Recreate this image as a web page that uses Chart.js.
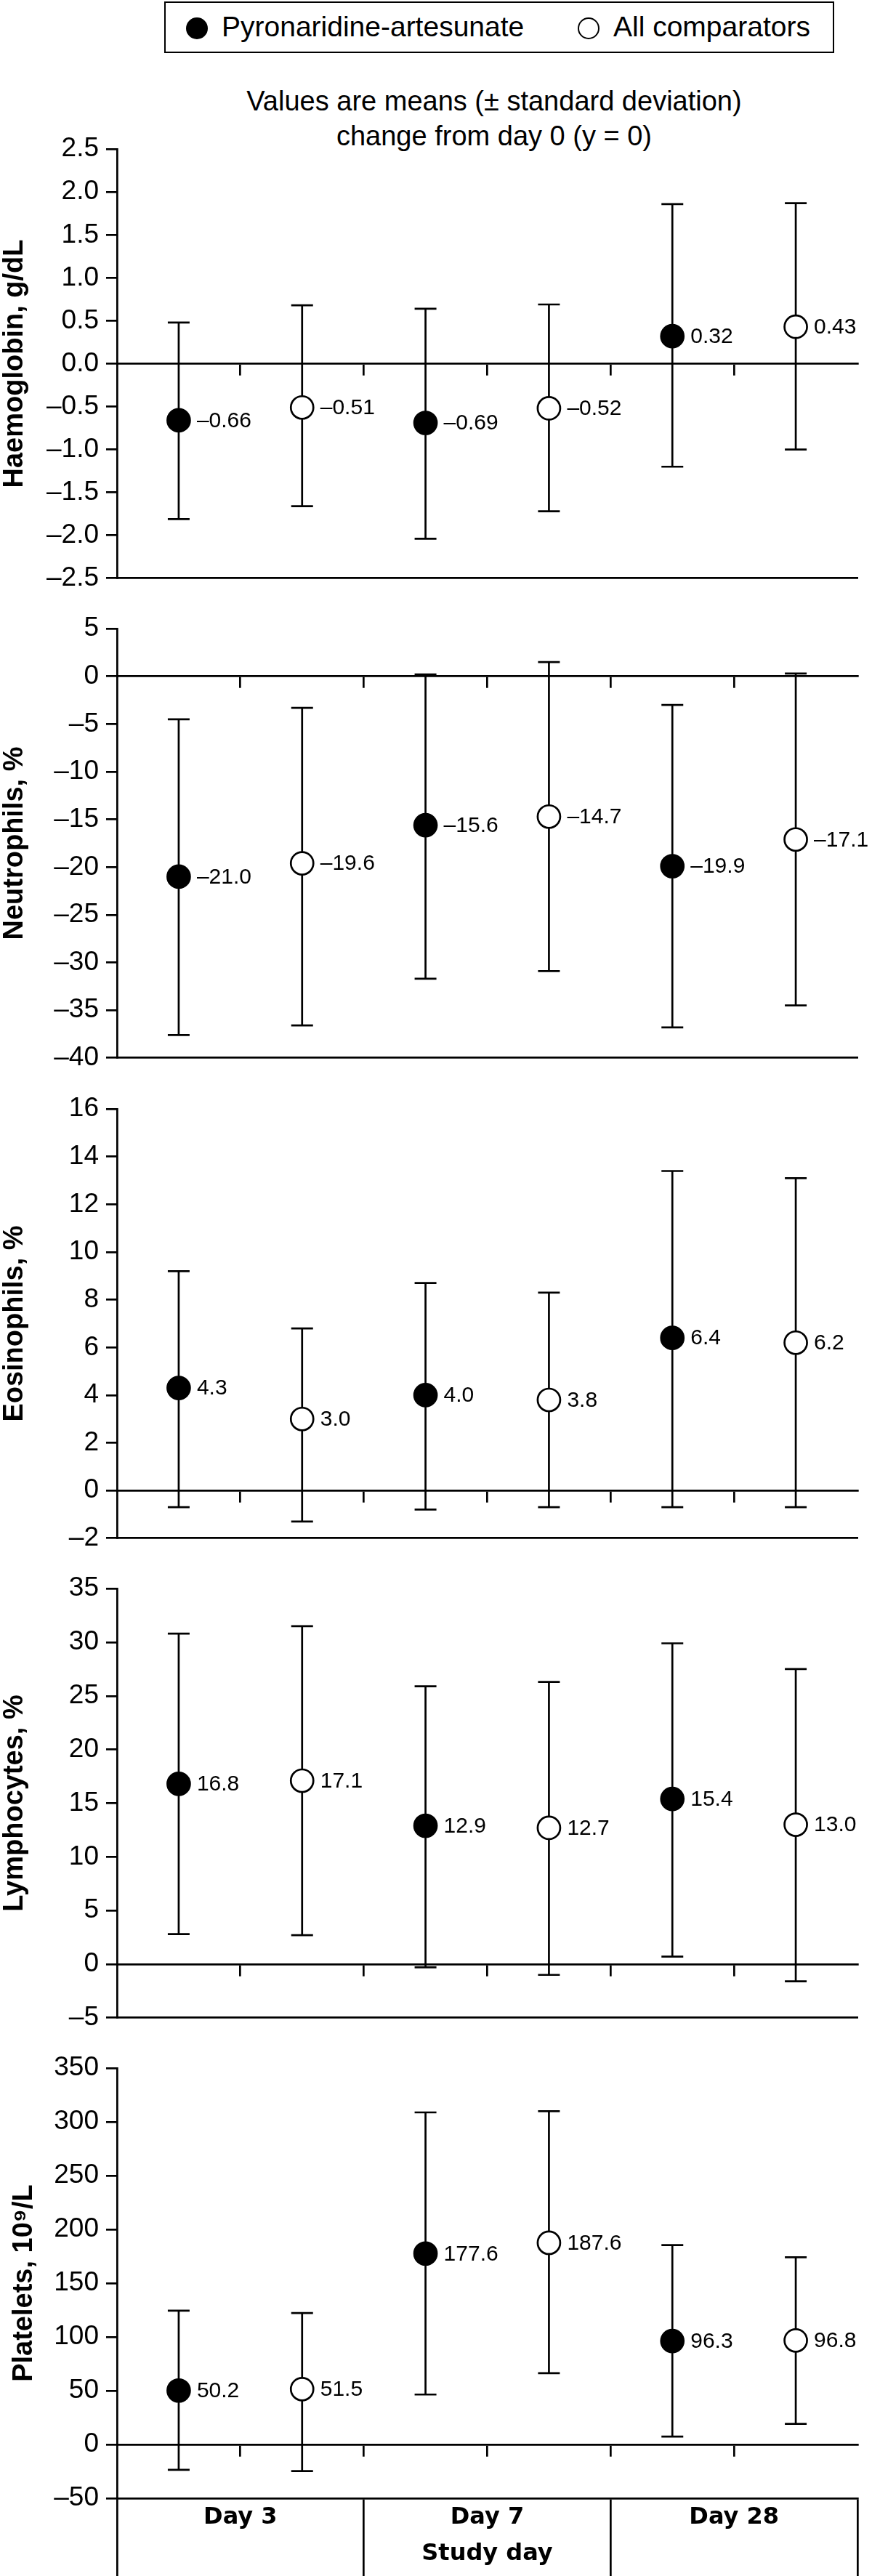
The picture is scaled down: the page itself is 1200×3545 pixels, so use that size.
<!DOCTYPE html>
<html lang="en">
<head>
<meta charset="UTF-8">
<title>Haematology: mean change from day 0</title>
<script src="https://cdn.jsdelivr.net/npm/chart.js"></script>
<style>
    * { margin: 0; padding: 0; box-sizing: border-box; }

    body {
        width: 1200px;
        height: 3545px;
        position: relative;
        overflow: hidden;
        background: #fff;
        color: #000;
        font-family: 'Liberation Sans', Arial, sans-serif;
    }

    .legend {
        position: absolute;
        left: 226px;
        top: 2px;
        width: 922px;
        height: 71px;
        border: 2.5px solid #000;
    }

    .legend .item {
        position: absolute;
        top: 0;
        height: 66px;
        line-height: 66px;
        font-size: 39px;
        white-space: nowrap;
    }

    .legend .dot {
        position: absolute;
        top: 20px;
        width: 30px;
        height: 30px;
        border-radius: 50%;
        border: 2.5px solid #000;
    }

    .subtitle {
        position: absolute;
        left: 180px;
        top: 115px;
        width: 1000px;
        text-align: center;
        font-size: 38px;
        line-height: 48px;
        white-space: nowrap;
    }

    canvas { position: absolute; left: 0; }
</style>
</head>
<body>

<div class="legend">
    <span class="dot" style="left: 28px; background: #000;"></span>
    <span class="item" id="leg-pa" style="left: 77px;"></span>
    <span class="dot" style="left: 567px; background: #fff;"></span>
    <span class="item" id="leg-ac" style="left: 616px;"></span>
</div>

<div class="subtitle">Values are means (± standard deviation)<br>change from day 0 (y = 0)</div>

<script>
    const categories = ['Day 3', 'Day 7', 'Day 28'];
    const seriesNames = ['Pyronaridine-artesunate', 'All comparators'];

    // Haemoglobin, g/dL
    const hbPA = [-0.66, -0.69, 0.32];
    const hbPALow = [-1.81, -2.04, -1.20];
    const hbPAHigh = [0.48, 0.64, 1.86];
    const hbAC = [-0.51, -0.52, 0.43];
    const hbACLow = [-1.66, -1.72, -1.00];
    const hbACHigh = [0.68, 0.69, 1.87];
    const hbAxis = [-2.5, 2.5, 0.5];      // min, max, step

    // Neutrophils, %
    const neuPA = [-21.0, -15.6, -19.9];
    const neuPALow = [-37.6, -31.7, -36.8];
    const neuPAHigh = [-4.5, 0.2, -3.0];
    const neuAC = [-19.6, -14.7, -17.1];
    const neuACLow = [-36.6, -30.9, -34.5];
    const neuACHigh = [-3.3, 1.5, 0.3];
    const neuAxis = [-40, 5, 5];

    // Eosinophils, %
    const eosPA = [4.3, 4.0, 6.4];
    const eosPALow = [-0.7, -0.8, -0.7];
    const eosPAHigh = [9.2, 8.7, 13.4];
    const eosAC = [3.0, 3.8, 6.2];
    const eosACLow = [-1.3, -0.7, -0.7];
    const eosACHigh = [6.8, 8.3, 13.1];
    const eosAxis = [-2, 16, 2];

    // Lymphocytes, %
    const lymPA = [16.8, 12.9, 15.4];
    const lymPALow = [2.8, -0.3, 0.7];
    const lymPAHigh = [30.8, 25.9, 29.9];
    const lymAC = [17.1, 12.7, 13.0];
    const lymACLow = [2.7, -1.0, -1.6];
    const lymACHigh = [31.5, 26.3, 27.5];
    const lymAxis = [-5, 35, 5];

    // Platelets, 10^9/L
    const pltPA = [50.2, 177.6, 96.3];
    const pltPALow = [-23.6, 46.5, 7.3];
    const pltPAHigh = [124.5, 308.9, 185.5];
    const pltAC = [51.5, 187.6, 96.8];
    const pltACLow = [-24.7, 66.4, 19.2];
    const pltACHigh = [122.3, 310.0, 174.2];
    const pltAxis = [-50, 350, 50];

    const panels = [
        { title: 'Haemoglobin, g/dL', pa: [hbPA, hbPALow, hbPAHigh], ac: [hbAC, hbACLow, hbACHigh], axis: hbAxis, tickDec: 1, labelDec: 2, titlePad: 2 },
        { title: 'Neutrophils, %', pa: [neuPA, neuPALow, neuPAHigh], ac: [neuAC, neuACLow, neuACHigh], axis: neuAxis, tickDec: 0, labelDec: 1, titlePad: 2 },
        { title: 'Eosinophils, %', pa: [eosPA, eosPALow, eosPAHigh], ac: [eosAC, eosACLow, eosACHigh], axis: eosAxis, tickDec: 0, labelDec: 1, titlePad: 2 },
        { title: 'Lymphocytes, %', pa: [lymPA, lymPALow, lymPAHigh], ac: [lymAC, lymACLow, lymACHigh], axis: lymAxis, tickDec: 0, labelDec: 1, titlePad: 2 },
        { title: 'Platelets, 10\u2079/L', pa: [pltPA, pltPALow, pltPAHigh], ac: [pltAC, pltACLow, pltACHigh], axis: pltAxis, tickDec: 0, labelDec: 1, titlePad: 15 }
    ];

    document.getElementById('leg-pa').textContent = seriesNames[0];
    document.getElementById('leg-ac').textContent = seriesNames[1];

    // page layout (pixels)
    const pageH = 3545;
    const plotTop0 = 203;
    const plotStep = 660.25;
    const plotH = 595;
    const pad = 30;
    const axisLeft = 161;
    const catBoxH = 107;
    const lw = 2.7;

    const sans = "'Liberation Sans', Arial, sans-serif";
    const tickFont = { family: sans, size: 37 };
    const catFont = { family: "'DejaVu Sans', sans-serif", size: 32, weight: 'bold', lineHeight: 1.2 };
    const black = '#000';
    const clear = 'rgba(0,0,0,0)';

    Chart.defaults.font.family = sans;
    Chart.defaults.color = black;

    // x positions: each day gets two slots, PA on the left, comparators on the right
    const xPA = categories.map((c, i) => 4 * i + 1);
    const xAC = categories.map((c, i) => 4 * i + 3);

    function fmt(v, dec) {
        return (v < 0 ? '\u2013' : '') + Math.abs(v).toFixed(dec);
    }

    function points(xs, ys) {
        return ys.map((y, i) => ({ x: xs[i], y: y }));
    }

    function stems(xs, lo, hi) {
        const out = [];
        xs.forEach((x, i) => {
            out.push({ x: x, y: lo[i] }, { x: x, y: hi[i] }, { x: x, y: null });
        });
        return out;
    }

    // value written to the right of each marker
    const valueLabels = {
        id: 'valueLabels',
        afterDatasetsDraw(chart) {
            const ctx = chart.ctx;
            ctx.save();
            ctx.font = '30px ' + sans;
            ctx.fillStyle = black;
            ctx.textAlign = 'left';
            ctx.textBaseline = 'middle';
            chart.data.datasets.forEach((ds, di) => {
                if (ds.labelDec === undefined) return;
                chart.getDatasetMeta(di).data.forEach((pt, i) => {
                    ctx.fillText(fmt(ds.data[i].y, ds.labelDec), pt.x + 25, pt.y + 1);
                });
            });
            ctx.restore();
        }
    };

    function makeChart(p, idx) {
        const last = idx === panels.length - 1;
        const top = Math.round(plotTop0 + idx * plotStep) - pad;
        const height = last ? pageH - top : plotH + 2 * pad;

        const canvas = document.createElement('canvas');
        canvas.width = 1200;
        canvas.height = height;
        canvas.style.top = top + 'px';
        document.body.appendChild(canvas);

        const [paMean, paLo, paHi] = p.pa;
        const [acMean, acLo, acHi] = p.ac;

        const bottomAxis = last ? {
            type: 'linear', min: 0, max: 12, position: 'bottom', offset: false,
            ticks: {
                display: true, stepSize: 2, autoSkip: false, maxRotation: 0, minRotation: 0,
                padding: -100, color: black, font: catFont,
                callback: v => (v % 4 === 2 ? categories[(v - 2) / 4] : '')
            },
            grid: {
                display: true, drawOnChartArea: false, drawTicks: true, tickLength: catBoxH, lineWidth: lw,
                color: c => (c.tick && c.tick.value % 4 === 0) ? black : clear
            },
            border: { display: true, color: black, width: lw },
            title: { display: true, text: 'Study day', color: black, font: catFont, padding: { top: 0, bottom: 11 } },
            afterFit: s => { s.height = catBoxH; }
        } : {
            type: 'linear', min: 0, max: 12, position: 'bottom', offset: false,
            ticks: { display: false },
            grid: { display: true, drawOnChartArea: false, drawTicks: false },
            border: { display: true, color: black, width: lw },
            afterFit: s => { s.height = 0; }
        };

        new Chart(canvas, {
            type: 'scatter',
            data: {
                datasets: [
                    {
                        label: seriesNames[0], data: points(xPA, paMean), xAxisID: 'x', order: 0,
                        pointStyle: 'circle', pointRadius: 15.5, pointBackgroundColor: black,
                        pointBorderColor: black, pointBorderWidth: lw, labelDec: p.labelDec
                    },
                    {
                        label: seriesNames[1], data: points(xAC, acMean), xAxisID: 'x', order: 0,
                        pointStyle: 'circle', pointRadius: 15.5, pointBackgroundColor: '#fff',
                        pointBorderColor: black, pointBorderWidth: lw, labelDec: p.labelDec
                    },
                    {
                        label: 'caps', xAxisID: 'x', order: 1,
                        data: points(xPA, paLo).concat(points(xPA, paHi), points(xAC, acLo), points(xAC, acHi)),
                        pointStyle: 'line', pointRadius: 15, pointBorderColor: black, pointBorderWidth: lw
                    },
                    {
                        label: 'sd', type: 'line', xAxisID: 'x', order: 2, showLine: true, spanGaps: false,
                        data: stems(xPA, paLo, paHi).concat(stems(xAC, acLo, acHi)),
                        borderColor: black, borderWidth: lw, pointRadius: 0, fill: false
                    }
                ]
            },
            options: {
                responsive: false,
                devicePixelRatio: 1,
                animation: false,
                events: [],
                layout: { padding: { top: pad, bottom: last ? 0 : pad, left: 0, right: 20 } },
                plugins: { legend: { display: false }, tooltip: { enabled: false } },
                scales: {
                    x: {
                        type: 'linear', min: 0, max: 12, position: { y: 0 }, offset: false,
                        ticks: { display: false, stepSize: 2 },
                        grid: {
                            display: true, drawOnChartArea: false, drawTicks: true, tickLength: 15, lineWidth: lw,
                            color: c => (c.tick && (c.tick.value === 0 || c.tick.value === 12)) ? clear : black
                        },
                        border: { display: true, color: black, width: lw },
                        afterFit: s => { s.height = 0; }
                    },
                    xb: bottomAxis,
                    y: {
                        type: 'linear', position: 'left',
                        min: p.axis[0], max: p.axis[1],
                        ticks: {
                            stepSize: p.axis[2], padding: 10, color: black, font: tickFont,
                            callback: v => fmt(v, p.tickDec)
                        },
                        grid: { display: true, drawOnChartArea: false, drawTicks: true, tickLength: 15, lineWidth: lw, color: black },
                        border: { display: true, color: black, width: lw },
                        title: {
                            display: true, text: p.title, color: black,
                            font: { family: sans, size: 38, weight: 'bold', lineHeight: 1 },
                            padding: { top: p.titlePad, bottom: 0 }
                        },
                        afterFit: s => { s.width = axisLeft; }
                    }
                }
            },
            plugins: [valueLabels]
        });
    }

    panels.forEach(makeChart);
</script>

</body>
</html>
